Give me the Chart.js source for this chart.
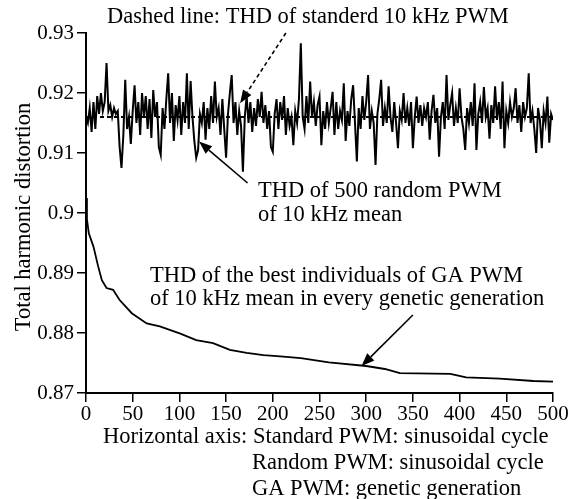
<!DOCTYPE html>
<html>
<head>
<meta charset="utf-8">
<script src="https://cdn.jsdelivr.net/npm/chart.js@4.4.0/dist/chart.umd.min.js"></script>
<style>
  html, body { margin: 0; padding: 0; background: #fff; }
  #thdChart { display: block; }
</style>
</head>
<body>
<canvas id="thdChart" width="575" height="499"></canvas>
<script>
// THD of 500 random PWM (one value every 2 sinusoidal cycles)
const randomStep = 2;
const randomThd = [
  0.9160, 0.9150, 0.9175, 0.9135, 0.9185, 0.9140, 0.9195, 0.9165, 0.9200, 0.9170,
  0.9185, 0.9250, 0.9170, 0.9180, 0.9160, 0.9175, 0.9165, 0.9170, 0.9110, 0.9075,
  0.9130, 0.9222, 0.9140, 0.9160, 0.9115, 0.9170, 0.9213, 0.9150, 0.9185, 0.9130,
  0.9200, 0.9160, 0.9195, 0.9140, 0.9190, 0.9125, 0.9205, 0.9160, 0.9185, 0.9110,
  0.9097, 0.9175, 0.9140, 0.9190, 0.9233, 0.9150, 0.9200, 0.9120, 0.9180, 0.9155,
  0.9195, 0.9130, 0.9185, 0.9150, 0.9233, 0.9140, 0.9220, 0.9160, 0.9120, 0.9092,
  0.9105, 0.9165, 0.9150, 0.9185, 0.9122, 0.9175, 0.9140, 0.9195, 0.9150, 0.9219,
  0.9160, 0.9175, 0.9130, 0.9190, 0.9140, 0.9092, 0.9165, 0.9200, 0.9230, 0.9150,
  0.9185, 0.9130, 0.9170, 0.9145, 0.9069, 0.9160, 0.9195, 0.9150, 0.9185, 0.9135,
  0.9175, 0.9145, 0.9190, 0.9160, 0.9202, 0.9150, 0.9180, 0.9140, 0.9170, 0.9110,
  0.9102, 0.9165, 0.9190, 0.9140, 0.9185, 0.9155, 0.9195, 0.9130, 0.9175, 0.9145,
  0.9160, 0.9113, 0.9170, 0.9150, 0.9190, 0.9283, 0.9160, 0.9140, 0.9195, 0.9150,
  0.9219, 0.9160, 0.9185, 0.9145, 0.9180, 0.9194, 0.9113, 0.9170, 0.9140, 0.9185,
  0.9150, 0.9175, 0.9202, 0.9130, 0.9185, 0.9140, 0.9170, 0.9155, 0.9216, 0.9120,
  0.9170, 0.9145, 0.9190, 0.9213, 0.9150, 0.9086, 0.9175, 0.9140, 0.9195, 0.9155,
  0.9185, 0.9230, 0.9140, 0.9170, 0.9150, 0.9080, 0.9165, 0.9190, 0.9222, 0.9145,
  0.9175, 0.9150, 0.9211, 0.9160, 0.9135, 0.9185, 0.9150, 0.9108, 0.9170, 0.9155,
  0.9200, 0.9150, 0.9175, 0.9145, 0.9185, 0.9108, 0.9160, 0.9194, 0.9150, 0.9180,
  0.9145, 0.9175, 0.9160, 0.9185, 0.9122, 0.9170, 0.9197, 0.9150, 0.9175, 0.9094,
  0.9160, 0.9185, 0.9140, 0.9230, 0.9155, 0.9180, 0.9200, 0.9145, 0.9175, 0.9150,
  0.9208, 0.9160, 0.9140, 0.9105, 0.9175, 0.9150, 0.9185, 0.9145, 0.9216, 0.9105,
  0.9165, 0.9185, 0.9150, 0.9210, 0.9160, 0.9175, 0.9124, 0.9180, 0.9150, 0.9211,
  0.9155, 0.9185, 0.9140, 0.9219, 0.9108, 0.9170, 0.9150, 0.9185, 0.9160, 0.9175,
  0.9208, 0.9150, 0.9180, 0.9135, 0.9185, 0.9160, 0.9175, 0.9233, 0.9150, 0.9170,
  0.9140, 0.9100, 0.9175, 0.9155, 0.9108, 0.9170, 0.9150, 0.9194, 0.9117, 0.9165,
  0.9155
];

// THD of standard 10 kHz PWM (dashed, constant)
const standardX = [0, 500];
const standardThd = [0.916, 0.916];

// THD of the best GA individual per genetic generation
const gaGen = [0, 1, 3, 8, 13, 17, 22, 29, 36, 49, 65, 79, 101, 118, 136, 154, 172, 190, 208, 230, 260, 300, 320, 336, 390, 407, 443, 479, 500];
const gaThd = [0.9025, 0.8990, 0.8966, 0.8944, 0.8911, 0.8888, 0.8875, 0.8872, 0.8855, 0.8833, 0.8816, 0.8811, 0.8799, 0.8788, 0.8783, 0.8772, 0.8767, 0.8763, 0.8761, 0.8758, 0.8751, 0.8745, 0.8740, 0.8733, 0.8732, 0.8726, 0.8724, 0.8720, 0.8719];

const serif = '"Liberation Serif", "Times New Roman", serif';
const tickSize = 21;
const noteSize = 22.5;

// text notes and arrows (arrow ends given in data units)
const notes = [
  { text: 'Dashed line: THD of standerd 10 kHz PWM', x: 107, y: 23 },
  { text: 'THD of 500 random PWM', x: 258, y: 197 },
  { text: 'of 10 kHz mean', x: 258, y: 221 },
  { text: 'THD of the best individuals of GA PWM', x: 150, y: 282 },
  { text: 'of 10 kHz mean in every genetic generation', x: 150, y: 305 },
  { text: 'Horizontal axis: Standard PWM: sinusoidal cycle', x: 103, y: 443 },
  { text: 'Random PWM: sinusoidal cycle', x: 252, y: 469 },
  { text: 'GA PWM: genetic generation', x: 252, y: 495 }
];
const arrows = [
  { from: [214, 0.930], to: [165, 0.9183], dashed: true },
  { from: [173, 0.905], to: [121, 0.9119], dashed: false },
  { from: [350, 0.883], to: [295, 0.8745], dashed: false }
];

const annotate = {
  id: 'annotate',
  afterDraw(chart) {
    const ctx = chart.ctx;
    const xs = chart.scales.x, ys = chart.scales.y;
    ctx.save();
    ctx.fillStyle = '#000';
    ctx.strokeStyle = '#000';
    ctx.font = noteSize + 'px ' + serif;
    ctx.textAlign = 'left';
    ctx.textBaseline = 'alphabetic';
    notes.forEach(n => ctx.fillText(n.text, n.x, n.y));

    // y axis title
    ctx.save();
    ctx.translate(30, 217);
    ctx.rotate(-Math.PI / 2);
    ctx.textAlign = 'center';
    ctx.fillText('Total harmonic distortion', 0, 0);
    ctx.restore();

    arrows.forEach(a => {
      const x1 = xs.getPixelForValue(a.from[0]), y1 = ys.getPixelForValue(a.from[1]);
      const x2 = xs.getPixelForValue(a.to[0]), y2 = ys.getPixelForValue(a.to[1]);
      const ang = Math.atan2(y2 - y1, x2 - x1);
      const headLen = 13, headW = 5;
      const bx = x2 - headLen * Math.cos(ang), by = y2 - headLen * Math.sin(ang);
      ctx.lineWidth = 1.6;
      ctx.setLineDash(a.dashed ? [4, 3] : []);
      ctx.beginPath();
      ctx.moveTo(x1, y1);
      ctx.lineTo(bx, by);
      ctx.stroke();
      ctx.setLineDash([]);
      ctx.beginPath();
      ctx.moveTo(x2, y2);
      ctx.lineTo(bx + headW * Math.sin(ang), by - headW * Math.cos(ang));
      ctx.lineTo(bx - headW * Math.sin(ang), by + headW * Math.cos(ang));
      ctx.closePath();
      ctx.fill();
    });
    ctx.restore();
  }
};

const ctx = document.getElementById('thdChart').getContext('2d');
new Chart(ctx, {
  type: 'scatter',
  data: {
    datasets: [
      {
        label: 'Random PWM',
        data: randomThd.map((v, i) => ({ x: i * randomStep, y: v })),
        showLine: true,
        borderColor: '#000',
        borderWidth: 2,
        pointRadius: 0
      },
      {
        label: 'Standard PWM',
        data: standardX.map((x, i) => ({ x: x, y: standardThd[i] })),
        showLine: true,
        borderColor: '#000',
        borderWidth: 1.8,
        borderDash: [4, 3],
        pointRadius: 0
      },
      {
        label: 'GA PWM',
        data: gaGen.map((g, i) => ({ x: g, y: gaThd[i] })),
        showLine: true,
        borderColor: '#000',
        borderWidth: 1.8,
        pointRadius: 0
      }
    ]
  },
  options: {
    responsive: false,
    animation: false,
    layout: { padding: { top: 33, right: 22, left: 0, bottom: 0 } },
    plugins: {
      legend: { display: false },
      tooltip: { enabled: false }
    },
    scales: {
      x: {
        type: 'linear',
        min: 0,
        max: 500,
        afterFit: s => { s.height = 106; },
        ticks: {
          stepSize: 50,
          color: '#000',
          padding: 0,
          maxRotation: 0,
          font: { family: serif, size: tickSize }
        },
        grid: { drawOnChartArea: false, color: '#000', lineWidth: 1.5, tickLength: 9 },
        border: { color: '#000', width: 2 }
      },
      y: {
        min: 0.87,
        max: 0.93,
        afterFit: s => { s.width = 86; },
        ticks: {
          stepSize: 0.01,
          color: '#000',
          padding: 3,
          font: { family: serif, size: tickSize },
          callback: v => String(Number(v.toFixed(2)))
        },
        grid: { drawOnChartArea: false, color: '#000', lineWidth: 1.5, tickLength: 9 },
        border: { color: '#000', width: 2 }
      }
    }
  },
  plugins: [annotate]
});
</script>
</body>
</html>
